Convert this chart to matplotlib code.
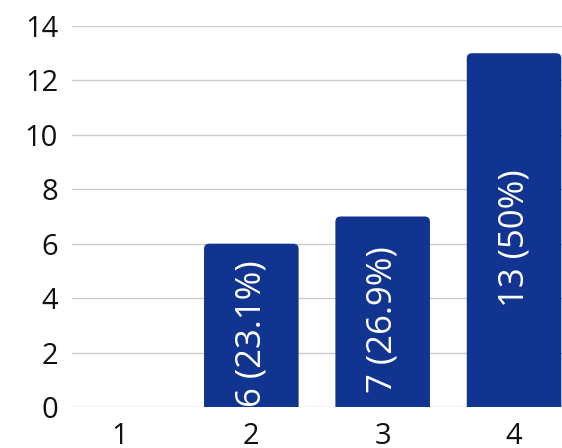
import matplotlib.pyplot as plt
from matplotlib.patches import FancyBboxPatch

categories = [1, 2, 3, 4]
counts = [0, 6, 7, 13]
labels = ["", "6 (23.1%)", "7 (26.9%)", "13 (50%)"]
yticks = [0, 2, 4, 6, 8, 10, 12, 14]

plt.rcParams['font.family'] = ['Open Sans', 'DejaVu Sans']

fig = plt.figure(figsize=(5.62, 4.48), dpi=100)
ax = fig.add_axes([72 / 562, 41 / 448, 490 / 562, 381 / 448])

bar_color = '#10348f'
width = 0.72
for x, v, lab in zip(categories, counts, labels):
    if v <= 0:
        continue
    # rounded top corners, bottom hidden below the axis
    box = FancyBboxPatch((x - width / 2, -1), width, v + 1,
                         boxstyle="round,pad=0,rounding_size=0.04",
                         mutation_aspect=4.8, facecolor=bar_color,
                         edgecolor='none', zorder=3)
    ax.add_patch(box)
    ax.text(x, v / 2 - 0.3, lab, rotation=90, ha='center', va='center',
            color='white', fontsize=25, zorder=4, clip_on=True)

ax.set_xlim(0.635, 4.365)
ax.set_ylim(0, 14)
ax.set_xticks(categories)
ax.set_yticks(yticks)
ax.tick_params(axis='both', length=0, labelsize=21, colors='#111111', pad=10)
ax.tick_params(axis='x', pad=11)
ax.yaxis.grid(True, color='#cccccc', linewidth=1)
ax.set_axisbelow(True)
for s in ax.spines.values():
    s.set_visible(False)

fig.savefig('out.png', dpi=100)
